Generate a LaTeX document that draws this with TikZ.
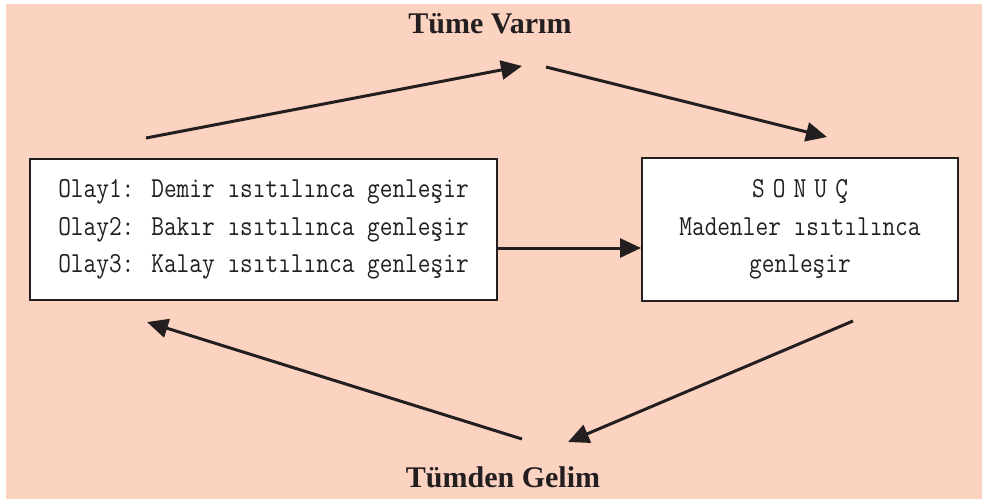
\documentclass[tikz,border=0pt]{standalone}
\usepackage{fontspec}
\setmainfont{Liberation Serif}
\newfontfamily\kutufont[FakeStretch=0.85]{Latin Modern Mono}
\usetikzlibrary{arrows.meta}
\definecolor{seftali}{RGB}{252,211,193}
\definecolor{koyu}{RGB}{35,31,32}
\begin{document}
\begin{tikzpicture}[x=1pt, y=-1pt]
        \tikzstyle{kutu}=[rectangle, fill=white, draw=koyu, line width=2pt, inner sep=0pt, text=koyu, font=\kutufont\fontsize{29}{37.5}\selectfont]
        \tikzstyle{baslik}=[anchor=base, text=koyu, font=\bfseries\fontsize{30}{36}\selectfont]
        \tikzstyle{ok}=[koyu, line width=3pt, -{Triangle[length=21pt, width=19pt]}]

        \useasboundingbox (0,0) rectangle (982,499);
        \fill[seftali] (6,4) rectangle (982,499);

        \node[kutu, minimum width=467pt, minimum height=141pt, align=left] (olay) at (263.5,229.5)
            {Olay1: Demir ısıtılınca genleşir\\Olay2: Bakır ısıtılınca genleşir\\Olay3: Kalay ısıtılınca genleşir};
        \node[kutu, minimum width=316pt, minimum height=143pt, align=center] (sonuc) at (800,229.5)
            {{\addfontfeature{LetterSpace=28}SONUÇ}\\Madenler ısıtılınca\\genleşir};

        \node[baslik] (tume) at (490,33) {Tüme Varım};
        \node[baslik] (tumden) at (503,487) {Tümden Gelim};

        \coordinate (a1) at (146,138);
        \coordinate (a2) at (522,66);
        \coordinate (b1) at (546,67);
        \coordinate (b2) at (827,137);
        \coordinate (c1) at (853,321);
        \coordinate (c2) at (568,442);
        \coordinate (d1) at (522,439);
        \coordinate (d2) at (147,322);

        \draw[ok] (a1) -- (a2);
        \draw[ok] (b1) -- (b2);
        \draw[ok] (c1) -- (c2);
        \draw[ok] (d1) -- (d2);
        \draw[ok] (olay.east |- 0,248) -- (sonuc.west |- 0,248);
    \end{tikzpicture}
\end{document}
